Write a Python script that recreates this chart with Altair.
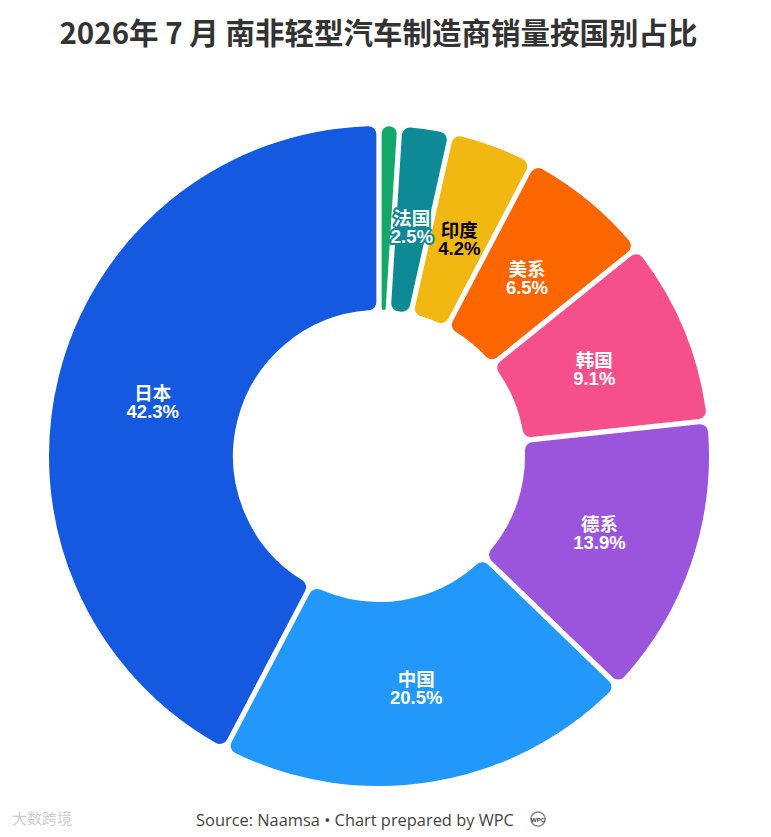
import altair as alt
import pandas as pd

names = ["其他", "法国", "印度", "美系", "韩国", "德系", "中国", "日本"]
values = [1.0, 2.5, 4.2, 6.5, 9.1, 13.9, 20.5, 42.3]
colors = ["#13a86a", "#0d8a95", "#f1b812", "#fb6600", "#f5508b", "#9b55dc", "#2398fb", "#1459e0"]
label_colors = ["white", "white", "black", "white", "white", "white", "white", "white"]
show_label = [False, True, True, True, True, True, True, True]

title_text = "2026年 7 月 南非轻型汽车制造商销量按国别占比"
footer_text = "Source: Naamsa • Chart prepared by WPC"
logo_text = "WPC"
watermark_text = "大数跨境"

df = pd.DataFrame({
    "name": names,
    "value": values,
    "idx": list(range(len(names))),
    "txtcolor": label_colors,
    "label": [
        (f"{n}\n{v:.1f}%" if s else "") for n, v, s in zip(names, values, show_label)
    ],
})

CX, CY = 371, 394
LABEL_R = 233

color_scale = alt.Scale(domain=names, range=colors)

base = alt.Chart(df).encode(
    theta=alt.Theta("value:Q", stack=True),
    order=alt.Order("idx:Q"),
    x=alt.value(CX),
    y=alt.value(CY),
)

arcs = base.mark_arc(
    outerRadius=331, innerRadius=145, cornerRadius=9, padAngle=0.009,
    stroke="white", strokeWidth=2,
).encode(color=alt.Color("name:N", scale=color_scale, legend=None))

label_font = "Liberation Sans, Noto Sans CJK SC"
text_style = dict(
    radius=LABEL_R, fontSize=18.5, fontWeight="bold", font=label_font,
    lineBreak="\n", lineHeight=18, align="center", baseline="middle", dy=-6,
)

halo = base.mark_text(strokeWidth=4, strokeJoin="round", **text_style).encode(
    text="label:N",
    stroke=alt.Stroke("name:N", scale=color_scale, legend=None),
    color=alt.Color("name:N", scale=color_scale, legend=None),
)

labels = base.mark_text(**text_style).encode(
    text="label:N",
    color=alt.Color("txtcolor:N", scale=None),
)

footer = alt.Chart(pd.DataFrame({"t": [footer_text]})).mark_text(
    fontSize=16.4, font="Open Sans", color="#444444", align="center", baseline="middle",
).encode(text="t:N", x=alt.value(347), y=alt.value(759))

logo_circle = alt.Chart(pd.DataFrame({"t": [logo_text]})).mark_point(
    shape="circle", size=200, filled=False, stroke="#555555", strokeWidth=1.5,
).encode(x=alt.value(530), y=alt.value(757))

logo = alt.Chart(pd.DataFrame({"t": [logo_text]})).mark_text(
    fontSize=6, fontWeight="bold", font="Liberation Sans", color="#444444",
    align="center", baseline="middle",
).encode(text="t:N", x=alt.value(530), y=alt.value(758))

watermark = alt.Chart(pd.DataFrame({"t": [watermark_text]})).mark_text(
    fontSize=15, font="Noto Sans CJK SC", color="#d0d0d0", align="left", baseline="middle",
).encode(text="t:N", x=alt.value(4), y=alt.value(757))

chart = alt.layer(arcs, halo, labels, footer, logo_circle, logo, watermark).properties(
    width=755,
    height=768,
    padding={"top": 12, "bottom": 0, "left": 0, "right": 0},
    title=alt.TitleParams(
        text=title_text, fontSize=29.5, fontWeight="bold", font="Noto Sans CJK SC",
        color="#333333", anchor="middle", offset=11.5, dx=-7,
    ),
).configure_view(stroke=None).resolve_scale(color="independent")

chart.save("out.html", embed_options={"renderer": "svg", "actions": False})
